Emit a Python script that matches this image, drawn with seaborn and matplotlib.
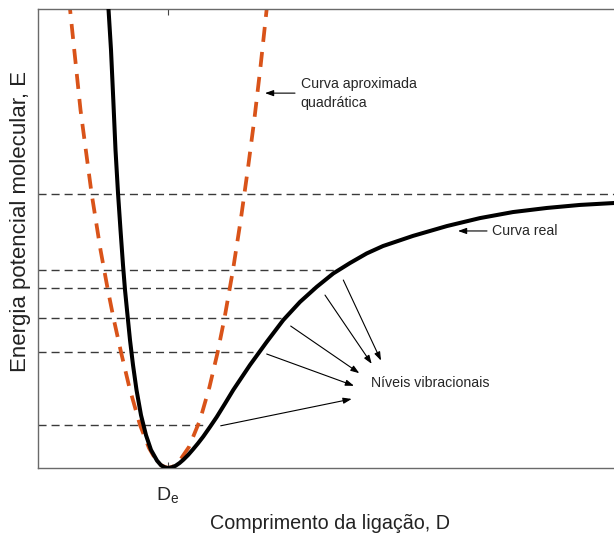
import matplotlib
matplotlib.use("Agg")
import matplotlib.pyplot as plt
import seaborn as sns
import numpy as np

# ---- data ----
# real (Morse-like) potential curve: bond length, energy
real_r = [0.69, 0.705, 0.73, 0.753, 0.775, 0.80, 0.825, 0.85, 0.87, 0.895, 0.92, 0.95,
          0.985, 1.03, 1.08, 1.13, 1.19, 1.23, 1.27, 1.30, 1.335, 1.375, 1.415, 1.453,
          1.50, 1.55, 1.60, 1.653, 1.72, 1.787, 1.87,
          1.953, 2.12, 2.287, 2.453, 2.62, 2.787, 2.953, 3.12, 3.287, 3.45, 3.75, 4.09,
          4.42, 4.75, 5.09, 5.42, 5.76, 5.80]
real_e = [1.75, 1.675, 1.526, 1.343, 1.161, 1.004, 0.869, 0.741, 0.650, 0.558, 0.467, 0.376,
          0.285, 0.193, 0.120, 0.066, 0.027, 0.010, 0.002, 0.0, 0.002, 0.008, 0.018, 0.030,
          0.047, 0.068, 0.090, 0.115, 0.150, 0.186, 0.235,
          0.285, 0.376, 0.460, 0.540, 0.606, 0.661, 0.710, 0.748, 0.783, 0.810, 0.847, 0.883,
          0.912, 0.934, 0.949, 0.960, 0.967, 0.968]

# quadratic approximation curve
quad_r = [0.31, 0.32, 0.425, 0.535, 0.625, 0.695, 0.755, 0.83, 0.915, 1.02, 1.11, 1.18, 1.24,
          1.30, 1.35, 1.40, 1.51, 1.62, 1.715, 1.795, 1.865, 1.95, 2.03, 2.10, 2.165, 2.225,
          2.287, 2.295]
quad_e = [1.72, 1.675, 1.307, 1.004, 0.796, 0.657, 0.547, 0.423, 0.292, 0.157, 0.073, 0.029,
          0.008, 0.0, 0.005, 0.018, 0.077, 0.175, 0.296, 0.420, 0.547, 0.723, 0.912, 1.095,
          1.277, 1.464, 1.675, 1.72]

# horizontal dashed lines: dissociation level + vibrational levels
level_e = [1.0, 0.7226, 0.657, 0.547, 0.423, 0.157]
level_end = [5.76, 2.98, 2.76, 2.43, 2.15, 1.69]

# arrows to vibrational levels: (tail_r, tail_e) -> (head_r, head_e)
vib_tail_r = [3.053, 2.87, 2.527, 2.287, 1.827]
vib_tail_e = [0.686, 0.631, 0.518, 0.416, 0.154]
vib_head_r = [3.43, 3.337, 3.213, 3.16, 3.137]
vib_head_e = [0.392, 0.380, 0.346, 0.300, 0.252]

De_pos = 1.30
xlabel = "Comprimento da ligação, D"
ylabel = "Energia potencial molecular, E"

# ---- figure ----
sns.set_theme(style="white")
plt.rcParams['font.family'] = ['Liberation Sans', 'DejaVu Sans']

fig = plt.figure(figsize=(6.14, 5.33), dpi=100)
ax = fig.add_axes([38 / 614, 65 / 533, 1 - 38 / 614, 459 / 533])

ax.set_xlim(0, 5.76)
ax.set_ylim(0, 1.675)

# dashed levels
ax.hlines(level_e, [0] * len(level_e), level_end, colors="#3a3a3a",
          linewidth=1.0, linestyles=[(0, (5.8, 3.6))], zorder=1)

sns.lineplot(x=quad_r, y=quad_e, sort=False, estimator=None, ax=ax,
             color="#D95319", linewidth=2.7, dashes=False, zorder=2)
ax.lines[-1].set_dashes((4.0, 2.7))
sns.lineplot(x=real_r, y=real_e, sort=False, estimator=None, ax=ax,
             color="black", linewidth=2.9, zorder=3)
for ln in ax.lines:
    ln.set_solid_joinstyle("round")
    ln.set_dash_joinstyle("round")

# annotations
arrow_kw = dict(arrowstyle="-|>,head_length=0.42,head_width=0.15", color="black",
                lw=0.8, shrinkA=0, shrinkB=0)
for tr, te, hr, he in zip(vib_tail_r, vib_tail_e, vib_head_r, vib_head_e):
    ax.annotate("", xy=(hr, he), xytext=(tr, te), arrowprops=arrow_kw)
ax.text(3.33, 0.311, "Níveis vibracionais", fontsize=10.2, ha="left", va="center")

ax.annotate("", xy=(2.27, 1.368), xytext=(2.57, 1.368), arrowprops=arrow_kw)
ax.text(2.627, 1.3675, "Curva aproximada\nquadrática", fontsize=10.2, ha="left",
        va="center", linespacing=1.45)

ax.annotate("", xy=(4.20, 0.865), xytext=(4.49, 0.865), arrowprops=arrow_kw)
ax.text(4.537, 0.865, "Curva real", fontsize=10.2, ha="left", va="center")

# axes styling
for side in ["left", "bottom", "top"]:
    ax.spines[side].set_color("#6a6a6a")
    ax.spines[side].set_linewidth(1.0)
ax.spines["right"].set_visible(False)

ax.set_xticks([De_pos])
ax.set_xticklabels([r"$\mathregular{D_e}$"], fontsize=14)
ax.set_yticks([])
ax.tick_params(axis="x", direction="in", length=4, width=0.8, color="#444444",
               top=True, bottom=True, pad=12)
ax.set_xlabel(xlabel, fontsize=14.2, color="#222222")
ax.set_ylabel(ylabel, fontsize=16, color="#222222")
ax.xaxis.set_label_coords((330.5 - 38) / 576, -(514 - 468) / 459)
ax.yaxis.set_label_coords(-(38 - 31) / 576, (468 - 222) / 459)

fig.savefig("out.png", dpi=100)
